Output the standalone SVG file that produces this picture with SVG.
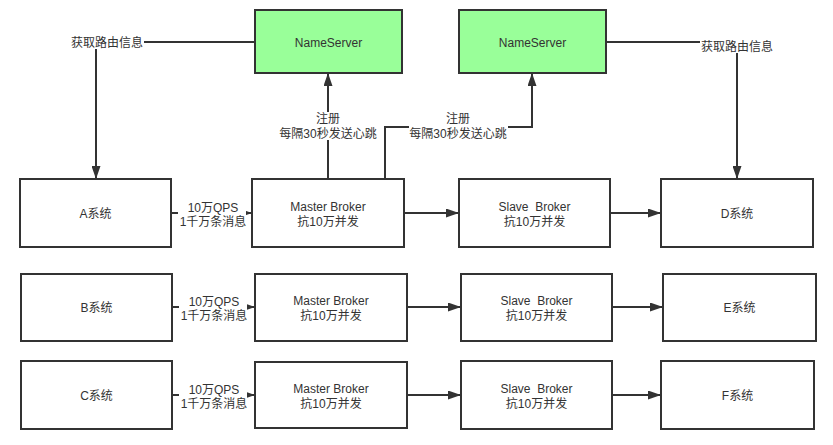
<svg xmlns="http://www.w3.org/2000/svg" width="833" height="445" viewBox="0 0 833 445">
<style>
.box{fill:#fff;stroke:#333;stroke-width:2}
.ns{fill:#99ff99;stroke:#333;stroke-width:2}
.ln{fill:none;stroke:#333;stroke-width:2}
text{font-family:"Liberation Sans","Noto Sans CJK SC",sans-serif;font-size:12px;fill:#333;text-anchor:middle;white-space:pre}
.bg{fill:#fff}
</style>
<defs>
<marker id="ar" viewBox="0 0 13 9" refX="12" refY="4.5" markerWidth="6.5" markerHeight="4.5" orient="auto" markerUnits="strokeWidth">
<path d="M0,0 L13,4.5 L0,9 z" fill="#333"/>
</marker>
</defs>
<rect width="833" height="445" fill="#fff"/>
<g id="connectors">
<path class="ln" d="M255,42 H96 V178" marker-end="url(#ar)"/>
<path class="ln" d="M606,42 H737 V178" marker-end="url(#ar)"/>
<path class="ln" d="M328,179 V74" marker-end="url(#ar)"/>
<path class="ln" d="M385,179 V127 H532 V74" marker-end="url(#ar)"/>
<path class="ln" d="M171,213 H251" marker-end="url(#ar)"/>
<path class="ln" d="M404,213 H458" marker-end="url(#ar)"/>
<path class="ln" d="M610,213 H660" marker-end="url(#ar)"/>
<path class="ln" d="M172,307 H254" marker-end="url(#ar)"/>
<path class="ln" d="M407,307 H460" marker-end="url(#ar)"/>
<path class="ln" d="M612,307 H662" marker-end="url(#ar)"/>
<path class="ln" d="M172,395 H254" marker-end="url(#ar)"/>
<path class="ln" d="M407,395 H460" marker-end="url(#ar)"/>
<path class="ln" d="M612,395 H660" marker-end="url(#ar)"/>
<rect class="bg" x="70" y="35" width="74" height="14"/>
<text x="107" y="47">获取路由信息</text>
<rect class="bg" x="700" y="39" width="74" height="14"/>
<text x="737" y="51">获取路由信息</text>
<rect class="bg" x="279" y="112" width="98" height="28"/>
<text x="328" y="123">注册</text>
<text x="328" y="138">每隔30秒发送心跳</text>
<rect class="bg" x="409" y="112" width="99" height="28"/>
<text x="458" y="123">注册</text>
<text x="458" y="138">每隔30秒发送心跳</text>
<rect class="bg" x="178" y="201" width="68" height="28"/>
<text x="213" y="212">10万QPS</text>
<text x="213" y="226">1千万条消息</text>
<rect class="bg" x="179" y="295" width="68" height="28"/>
<text x="214" y="306">10万QPS</text>
<text x="214" y="320">1千万条消息</text>
<rect class="bg" x="179" y="383" width="68" height="28"/>
<text x="214" y="394">10万QPS</text>
<text x="214" y="408">1千万条消息</text>
</g>
<g id="ns1"><rect class="ns" x="255" y="10" width="147" height="63"/><text x="328.5" y="47">NameServer</text></g>
<g id="ns2"><rect class="ns" x="459" y="10" width="147" height="63"/><text x="532.5" y="47">NameServer</text></g>
<g id="sysA"><rect class="box" x="20" y="179" width="151" height="68"/><text x="95.5" y="218">A系统</text></g>
<g id="master1"><rect class="box" x="252" y="179" width="152" height="68"/><text x="328" y="211">Master Broker</text><text x="328" y="226">抗10万并发</text></g>
<g id="slave1"><rect class="box" x="459" y="179" width="151" height="68"/><text x="534.5" y="211">Slave  Broker</text><text x="534.5" y="226">抗10万并发</text></g>
<g id="sysD"><rect class="box" x="661" y="179" width="152" height="68"/><text x="737" y="218">D系统</text></g>
<g id="sysB"><rect class="box" x="21" y="274" width="151" height="67"/><text x="96.5" y="312">B系统</text></g>
<g id="master2"><rect class="box" x="255" y="274" width="152" height="67"/><text x="331" y="305">Master Broker</text><text x="331" y="320">抗10万并发</text></g>
<g id="slave2"><rect class="box" x="461" y="274" width="151" height="67"/><text x="536.5" y="305">Slave  Broker</text><text x="536.5" y="320">抗10万并发</text></g>
<g id="sysE"><rect class="box" x="663" y="274" width="153" height="67"/><text x="739.5" y="312">E系统</text></g>
<g id="sysC"><rect class="box" x="21" y="361" width="151" height="68"/><text x="96.5" y="400">C系统</text></g>
<g id="master3"><rect class="box" x="255" y="362" width="152" height="66"/><text x="331" y="393">Master Broker</text><text x="331" y="408">抗10万并发</text></g>
<g id="slave3"><rect class="box" x="461" y="361" width="151" height="68"/><text x="536.5" y="393">Slave  Broker</text><text x="536.5" y="408">抗10万并发</text></g>
<g id="sysF"><rect class="box" x="661" y="361" width="153" height="68"/><text x="737.5" y="400">F系统</text></g>
</svg>
